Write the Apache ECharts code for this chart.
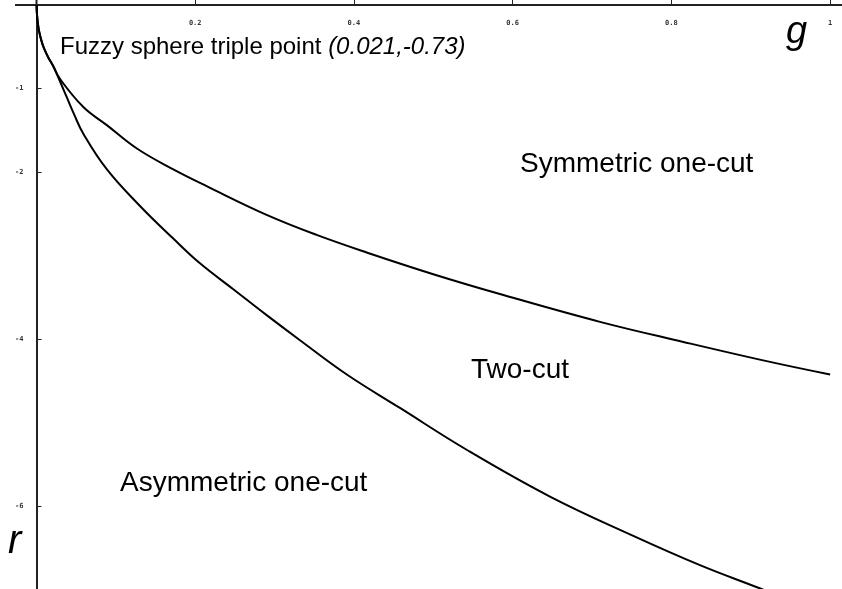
<!DOCTYPE html>
<html>
<head>
<meta charset="utf-8">
<script src="https://cdn.jsdelivr.net/npm/echarts@6/dist/echarts.min.js"></script>
<style>
  html, body { margin: 0; padding: 0; background: #fff; }
  #chart { width: 842px; height: 589px; }
</style>
</head>
<body>
<div id="chart"></div>
<script>
// 三相点之前两条曲线重合
const commonG = [0, 0.0005, 0.0015, 0.003, 0.006, 0.0095, 0.015, 0.021];
const commonR = [0, -0.1, -0.2, -0.3, -0.42, -0.52, -0.63, -0.73];

// 对称单割 / 双割 边界
const upperG = [0.03, 0.059, 0.089, 0.127, 0.173, 0.215, 0.29, 0.353, 0.416, 0.5, 0.585, 0.71, 0.815, 0.92, 1.0];
const upperR = [-0.89, -1.22, -1.44, -1.72, -1.97, -2.17, -2.51, -2.75, -2.96, -3.22, -3.46, -3.79, -4.03, -4.26, -4.42];

// 双割 / 非对称单割 边界
const lowerG = [0.029, 0.038, 0.047, 0.059, 0.089, 0.131, 0.173, 0.206, 0.248, 0.29, 0.332, 0.391, 0.458, 0.542, 0.647, 0.752, 0.836, 0.912, 0.93];
const lowerR = [-0.9, -1.1, -1.3, -1.54, -1.97, -2.41, -2.8, -3.09, -3.4, -3.71, -4.01, -4.42, -4.82, -5.32, -5.88, -6.35, -6.7, -6.98, -7.05];

const xTicks = [0.2, 0.4, 0.6, 0.8, 1];
const yTicks = [-1, -2, -4, -6];

function zipCurve(g1, r1, g2, r2) {
  const pts = [];
  g1.forEach((g, i) => pts.push([g, r1[i]]));
  g2.forEach((g, i) => pts.push([g, r2[i]]));
  return pts;
}

const chart = echarts.init(document.getElementById('chart'));

const labelFont = "'Liberation Sans', Arial, sans-serif";
const tickLabelStyle = {
  fontFamily: "'DejaVu Sans Mono', monospace",
  fontSize: 7,
  fontWeight: 'bold',
  color: '#333'
};

const option = {
  animation: false,
  backgroundColor: '#fff',
  grid: {
    left: 36.5,
    right: 0,
    top: 5,
    bottom: -1.2,
    outerBoundsMode: 'none',
    containLabel: false
  },
  xAxis: {
    type: 'value',
    position: 'top',
    min: 0,
    max: 1.015,
    axisLine: { onZero: false, lineStyle: { color: '#222', width: 2 } },
    axisTick: { show: true, inside: false, length: 5, customValues: xTicks, lineStyle: { color: '#222', width: 1 } },
    axisLabel: Object.assign({ inside: true, margin: 15, customValues: xTicks }, tickLabelStyle),
    splitLine: { show: false }
  },
  yAxis: {
    type: 'value',
    min: -7,
    max: 0,
    axisLine: { onZero: false, lineStyle: { color: '#222', width: 2 } },
    axisTick: { show: true, inside: true, length: 5, customValues: yTicks, lineStyle: { color: '#222', width: 1 } },
    axisLabel: Object.assign({ inside: false, margin: 13, customValues: yTicks }, tickLabelStyle),
    splitLine: { show: false }
  },
  series: [
    {
      name: 'upper',
      type: 'line',
      data: zipCurve(commonG, commonR, upperG, upperR),
      smooth: 0.4,
      showSymbol: false,
      clip: true,
      lineStyle: { color: '#000', width: 2 }
    },
    {
      name: 'lower',
      type: 'line',
      data: zipCurve(commonG, commonR, lowerG, lowerR),
      smooth: 0.4,
      showSymbol: false,
      clip: true,
      lineStyle: { color: '#000', width: 2 }
    }
  ],
  graphic: [
    {
      // 顶部坐标轴线向左多出的一段
      type: 'line',
      shape: { x1: 15, y1: 5, x2: 37, y2: 5 },
      style: { stroke: '#222', lineWidth: 2 }
    },
    {
      type: 'line',
      shape: { x1: 36.5, y1: 0, x2: 36.5, y2: 5 },
      style: { stroke: '#222', lineWidth: 2 }
    },
    {
      type: 'text',
      left: 60,
      top: 35,
      style: {
        text: '{n|Fuzzy sphere triple point }{i|(0.021,-0.73)}',
        rich: {
          n: { fontFamily: labelFont, fontSize: 24, fill: '#000' },
          i: { fontFamily: labelFont, fontSize: 24, fontStyle: 'italic', fill: '#000' }
        }
      }
    },
    {
      type: 'text',
      left: 520,
      top: 150,
      style: { text: 'Symmetric one-cut', font: "28px 'Liberation Sans', Arial, sans-serif", fill: '#000' }
    },
    {
      type: 'text',
      left: 471,
      top: 356,
      style: { text: 'Two-cut', font: "28px 'Liberation Sans', Arial, sans-serif", fill: '#000' }
    },
    {
      type: 'text',
      left: 120,
      top: 469,
      style: { text: 'Asymmetric one-cut', font: "28px 'Liberation Sans', Arial, sans-serif", fill: '#000' }
    },
    {
      type: 'text',
      left: 786,
      top: 13,
      style: { text: 'g', font: "italic 38px 'Liberation Sans', Arial, sans-serif", fill: '#000' }
    },
    {
      type: 'text',
      left: 8,
      top: 522,
      style: { text: 'r', font: "italic 40px 'Liberation Sans', Arial, sans-serif", fill: '#000' }
    }
  ]
};

chart.setOption(option);
</script>
</body>
</html>
